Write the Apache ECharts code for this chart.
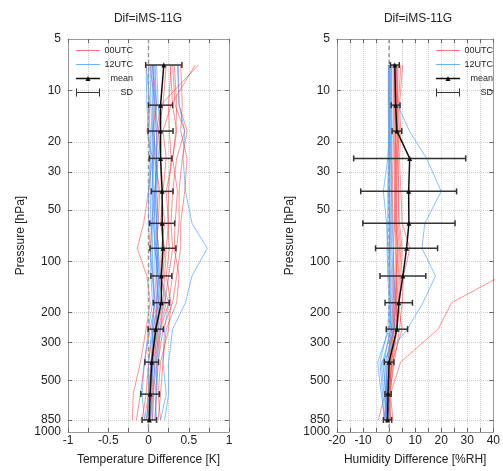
<!DOCTYPE html>
<html><head><meta charset="utf-8">
<script src="https://cdn.jsdelivr.net/npm/echarts@6/dist/echarts.min.js"></script>
<style>html,body{margin:0;padding:0;background:#fff}#c{width:503px;height:471px}</style>
</head><body><div id="c"></div>
<script>
// ---------------- DATA ----------------
const pressureLevels = [850, 600, 390, 250, 175, 122, 84, 60, 39, 25, 17.3, 12.2, 7.1];
const yLabelValues = [5, 10, 20, 30, 50, 100, 200, 300, 500, 850, 1000];
const yGridValues = [10, 20, 30, 50, 100, 200, 300, 500, 850];

const tempMean = [0.01, 0.02, 0.04, 0.09, 0.16, 0.16, 0.18, 0.17, 0.17, 0.15, 0.15, 0.15, 0.19];
const tempSD   = [0.09, 0.115, 0.085, 0.095, 0.10, 0.13, 0.16, 0.155, 0.135, 0.14, 0.155, 0.15, 0.225];
const humMean  = [-0.6, -0.4, 0.0, 3.0, 3.7, 5.3, 6.7, 7.6, 7.5, 7.9, 3.0, 2.5, 2.2];
const humSD    = [1.6, 1.2, 1.85, 4.1, 5.25, 8.8, 11.9, 17.7, 18.4, 21.5, 1.85, 1.7, 1.7];

const temp00 = [
  [-0.20,-0.19,-0.10,-0.03,0.02,-0.02,-0.14,-0.06,0.00,0.05,-0.02,0.02,-0.03],
  [-0.15,-0.10,-0.05,0.02,0.08,0.05,0.02,0.04,0.08,0.10,0.06,0.08,0.02],
  [-0.08,-0.03,0.00,0.06,0.12,0.10,0.12,0.10,0.12,0.10,0.10,0.15,0.62],
  [-0.05,0.00,0.03,0.08,0.15,0.18,0.20,0.15,0.18,0.22,0.18,0.28,0.58],
  [0.00,0.02,0.05,0.10,0.18,0.20,0.22,0.25,0.22,0.30,0.35,0.30,0.27],
  [0.02,0.04,0.06,0.12,0.20,0.25,0.30,0.28,0.30,0.35,0.45,0.33,0.30],
  [0.05,0.06,0.10,0.15,0.25,0.30,0.35,0.38,0.38,0.42,0.48,0.38,0.36],
  [0.08,0.10,0.12,0.18,0.30,0.35,0.40,0.40,0.45,0.48,0.40,0.42,0.40],
  [0.12,0.15,0.18,0.22,0.35,0.38,0.32,0.33,0.36,0.30,0.34,0.35,0.32],
  [0.15,0.12,0.15,0.25,0.28,0.22,0.26,0.24,0.25,0.28,0.26,0.25,0.28],
  [0.03,0.05,0.08,0.14,0.22,0.15,0.16,0.20,0.16,0.15,0.12,0.18,0.22],
  [-0.02,0.01,0.04,0.10,0.10,0.12,0.08,0.12,0.14,0.08,0.05,0.10,0.05]
];
const temp12 = [
  [0.20,0.25,0.25,0.30,0.46,0.54,0.73,0.54,0.46,0.43,0.45,0.38,0.37],
  [0.15,0.22,0.18,0.20,0.25,0.15,0.12,0.10,0.08,0.10,0.12,0.08,0.05],
  [-0.05,-0.08,-0.05,0.00,0.05,0.03,0.02,0.00,0.00,0.02,0.00,-0.02,-0.03],
  [-0.02,0.00,0.00,0.04,0.08,0.06,0.05,0.03,0.02,0.03,0.02,0.00,0.00],
  [0.00,0.02,0.03,0.06,0.10,0.08,0.08,0.06,0.05,0.05,0.04,0.03,0.02],
  [0.02,0.04,0.05,0.08,0.12,0.10,0.10,0.08,0.06,0.06,0.05,0.05,0.04],
  [0.05,0.06,0.08,0.10,0.14,0.12,0.12,0.10,0.09,0.08,0.07,0.06,0.06],
  [0.08,0.10,0.10,0.12,0.12,0.14,0.10,0.12,0.10,0.10,0.10,0.08,0.08],
  [-0.03,0.02,0.06,0.05,0.07,0.05,0.04,0.05,0.04,0.06,0.08,0.10,0.08],
  [0.10,0.08,0.12,0.15,0.18,0.12,0.08,0.07,0.08,0.12,0.15,0.12,0.10]
];
const hum00 = [
  [0.5,0.5,4.4,18.8,24,43,null,null,null,null,null,null,null],
  [-4.1,-1.6,-0.5,1.0,1.5,1.5,1.8,1.5,1.2,1.5,1.8,1.6,1.6],
  [-2.0,-1.0,0.0,1.5,2.0,2.2,2.5,2.0,2.0,2.0,2.2,2.0,2.0],
  [-1.0,-0.5,0.5,2.0,2.5,3.0,3.5,2.5,2.5,2.5,2.5,2.5,2.4],
  [0.0,0.0,1.0,2.5,3.0,3.5,4.0,3.0,3.0,3.0,3.0,2.8,2.8],
  [1.5,0.5,1.5,3.0,4.0,4.5,5.0,4.0,3.5,3.5,3.5,3.2,3.5],
  [-0.5,0.2,2.0,4.0,5.0,5.5,8.0,5.0,4.5,4.0,4.5,4.0,5.2],
  [-1.5,-0.8,0.3,1.8,2.3,2.8,3.0,2.2,2.3,2.3,2.6,2.3,2.2],
  [0.5,-0.2,1.2,5.0,3.5,4.0,4.5,3.5,3.8,3.2,4.0,3.5,4.5],
  [-0.8,0.3,0.8,2.8,2.8,2.6,3.2,2.8,2.8,2.7,3.3,3.0,3.0]
];
const hum12 = [
  [-1.0,-2.0,-3.0,7.0,13.0,17.8,12.6,13.7,20.0,14.4,7.8,3.3,3.0],
  [-1.5,-3.0,-4.4,0.0,0.5,0.0,-0.5,-1.0,-2.2,-0.5,0.0,0.0,0.0],
  [-2.0,-2.5,-3.5,-0.5,0.0,-0.5,-0.8,-0.5,-0.5,-0.3,-0.2,-0.3,-0.3],
  [-1.0,-1.5,-2.0,0.5,0.8,0.5,0.0,0.0,0.0,0.2,0.3,0.2,0.2],
  [-0.5,-1.0,-1.0,1.0,1.2,1.0,0.5,0.5,0.3,0.5,0.6,0.5,0.5],
  [0.0,-0.5,-0.5,1.5,1.8,1.5,1.0,0.8,0.8,0.8,0.9,0.8,0.8],
  [-1.2,-0.8,-1.5,2.0,2.5,1.8,1.5,1.2,1.0,1.0,1.2,1.0,1.0],
  [-0.8,-1.2,-2.5,0.8,0.3,0.2,0.2,0.2,-0.2,0.0,0.1,-0.1,-0.2]
];
const panelTitles = ['Dif=iMS-11G', 'Dif=iMS-11G'];
const xNames = ['Temperature Difference [K]', 'Humidity Difference [%RH]'];
const legendNames = ['00UTC', '12UTC', 'mean', 'SD'];

// ---------------- CHART ----------------
const FONT = 'Liberation Sans, Arial, sans-serif';
const RED = 'rgba(255,40,40,0.5)';
const BLUE = 'rgba(40,140,255,0.55)';
const chart = echarts.init(document.getElementById('c'), null, {renderer: 'canvas'});

const grids = [
  {left: 68, top: 39, width: 161, height: 398},
  {left: 337, top: 39, width: 162, height: 398}
];
const xCfg = [
  {min: -1, max: 1, interval: 0.25, labelStep: 0.5},
  {min: -20, max: 40, interval: 5, labelStep: 10}
];

const xAxes = [], yAxes = [];
grids.forEach((g, gi) => {
  const c = xCfg[gi];
  xAxes.push({
    gridIndex: gi, type: 'value', min: c.min, max: c.max, interval: c.interval, position: 'bottom',
    axisLine: {show: true, onZero: false, lineStyle: {color: '#999'}},
    axisTick: {show: true, inside: true, length: 4, lineStyle: {color: '#666'}},
    axisLabel: {margin: 3, fontSize: 12, color: '#222', fontFamily: FONT,
      formatter: v => (Math.abs(v / c.labelStep - Math.round(v / c.labelStep)) < 1e-9 ? String(+v.toFixed(4)) : '')},
    splitLine: {show: true, lineStyle: {color: '#ccc', type: 'dotted'}},
    name: xNames[gi], nameLocation: 'middle', nameGap: 22,
    nameTextStyle: {fontSize: 12, color: '#222', fontFamily: FONT}
  });
  xAxes.push({
    gridIndex: gi, type: 'value', min: c.min, max: c.max, interval: c.interval, position: 'top',
    axisLine: {show: true, onZero: false, lineStyle: {color: '#999'}},
    axisTick: {show: true, inside: true, length: 4, lineStyle: {color: '#666'}},
    axisLabel: {show: false}, splitLine: {show: false}
  });
  yAxes.push({
    gridIndex: gi, type: 'log', logBase: 10, min: 5, max: 1000, inverse: true, position: 'left',
    axisLine: {show: true, onZero: false, lineStyle: {color: '#999'}},
    axisTick: {show: true, inside: true, length: 4, customValues: yGridValues, lineStyle: {color: '#666'}},
    axisLabel: {customValues: yLabelValues, margin: 7, fontSize: 12, color: '#222', fontFamily: FONT,
      formatter: v => String(Math.round(v))},
    splitLine: {show: true, lineStyle: {color: '#ccc', type: 'dotted'}},
    name: 'Pressure [hPa]', nameLocation: 'middle', nameGap: 41,
    nameTextStyle: {fontSize: 12, color: '#222', fontFamily: FONT}
  });
  yAxes.push({
    gridIndex: gi, type: 'log', logBase: 10, min: 5, max: 1000, inverse: true, position: 'right',
    axisLine: {show: true, onZero: false, lineStyle: {color: '#999'}},
    axisTick: {show: true, inside: true, length: 4, customValues: yGridValues, lineStyle: {color: '#666'}},
    axisLabel: {show: false}, splitLine: {show: false}
  });
});

function profile(arr) {
  const out = [];
  pressureLevels.forEach((p, i) => { if (arr[i] !== null && arr[i] !== undefined) out.push([arr[i], p]); });
  return out;
}
const series = [];
function addPanel(gi, reds, blues, mean, sd) {
  const xi = gi * 2, yi = gi * 2;
  reds.forEach(r => series.push({type: 'line', name: '00UTC', xAxisIndex: xi, yAxisIndex: yi, data: profile(r),
    symbol: 'none', lineStyle: {color: RED, width: 1}, itemStyle: {color: RED}, silent: true, z: 2}));
  blues.forEach(b => series.push({type: 'line', name: '12UTC', xAxisIndex: xi, yAxisIndex: yi, data: profile(b),
    symbol: 'none', lineStyle: {color: BLUE, width: 1}, itemStyle: {color: BLUE}, silent: true, z: 3}));
  series.push({type: 'line', name: 'zero', xAxisIndex: xi, yAxisIndex: yi, data: [[0, 5], [0, 1000]],
    symbol: 'none', lineStyle: {color: '#999', width: 1.5, type: [4, 3]}, silent: true, z: 4});
  series.push({type: 'custom', name: 'SD', xAxisIndex: xi, yAxisIndex: yi,
    data: pressureLevels.map((p, i) => [mean[i] - sd[i], mean[i] + sd[i], p]),
    encode: {x: [0, 1], y: 2}, itemStyle: {color: '#333'}, z: 5,
    renderItem: (params, api) => {
      const p = api.value(2);
      const a = api.coord([api.value(0), p]);
      const b = api.coord([api.value(1), p]);
      const h = 3, st = {stroke: '#333', lineWidth: 1.5};
      return {type: 'group', children: [
        {type: 'line', shape: {x1: a[0], y1: a[1], x2: b[0], y2: b[1]}, style: st},
        {type: 'line', shape: {x1: a[0], y1: a[1] - h, x2: a[0], y2: a[1] + h}, style: st},
        {type: 'line', shape: {x1: b[0], y1: b[1] - h, x2: b[0], y2: b[1] + h}, style: st}
      ]};
    }});
  series.push({type: 'line', name: 'mean', xAxisIndex: xi, yAxisIndex: yi, data: profile(mean),
    symbol: 'triangle', symbolSize: 5, lineStyle: {color: '#111', width: 1.5}, itemStyle: {color: '#111'}, z: 6});
}
addPanel(0, temp00, temp12, tempMean, tempSD);
addPanel(1, hum00, hum12, humMean, humSD);

const sdIcon = 'path://M0,0L1,0L1,8L0,8Z M0,3.4L24,3.4L24,4.6L0,4.6Z M23,0L24,0L24,8L23,8Z';
const lineIcon = 'path://M0,3.5L24,3.5L24,4.5L0,4.5Z';
const meanIcon = 'path://M0,3.3L24,3.3L24,4.7L0,4.7Z M9.5,6.5L12,1.5L14.5,6.5Z';
const legendIcons = {'00UTC': lineIcon, '12UTC': lineIcon, 'mean': meanIcon, 'SD': sdIcon};
const legendColors = {'00UTC': 'rgba(255,70,70,0.75)', '12UTC': 'rgba(60,150,255,0.75)', 'mean': '#111', 'SD': '#333'};
function legendAt(left) {
  return {
    orient: 'vertical', left: left, top: 46, padding: 0, itemWidth: 24, itemHeight: 8, itemGap: 5,
    selectedMode: false,
    data: legendNames.map(n => ({name: n, icon: legendIcons[n], itemStyle: {color: legendColors[n]}})),
    formatter: n => '{r|' + n + '}',
    textStyle: {rich: {r: {width: 28, align: 'right', fontSize: 9, color: '#222', fontFamily: FONT}}}
  };
}

chart.setOption({
  animation: false,
  backgroundColor: '#fff',
  textStyle: {fontFamily: FONT},
  title: panelTitles.map((t, i) => ({
    text: t, left: i === 0 ? 148 : 418, top: 13, textAlign: 'center', padding: 0,
    textStyle: {fontSize: 12, fontWeight: 'normal', color: '#222', fontFamily: FONT}
  })),
  legend: [legendAt(76), legendAt(436)],
  grid: grids,
  xAxis: xAxes,
  yAxis: yAxes,
  series: series
});
</script>
</body></html>
